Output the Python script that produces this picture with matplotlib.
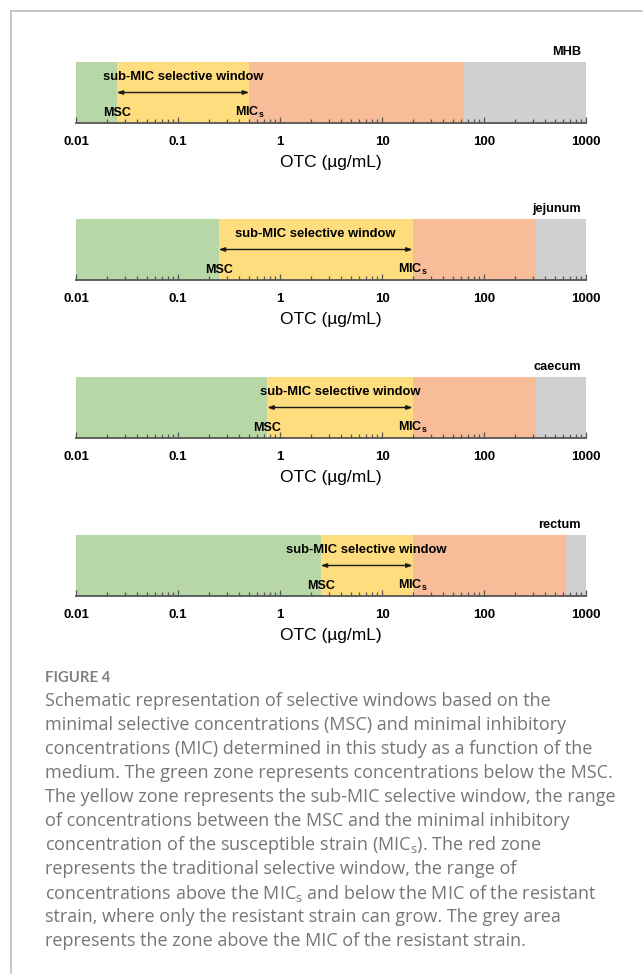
import matplotlib
matplotlib.use('Agg')
import matplotlib.pyplot as plt
from matplotlib.lines import Line2D

plt.rcParams['font.family'] = ['Liberation Sans', 'DejaVu Sans']
plt.rcParams['mathtext.default'] = 'regular'

# OTC concentrations (ug/mL)
media = ['MHB', 'jejunum', 'caecum', 'rectum']
msc = [0.025, 0.25, 0.75, 2.5]
mic_s = [0.5, 20, 20, 20]
mic_r = [64, 320, 320, 640]
x_min, x_max = 0.01, 1000
tick_vals = [0.01, 0.1, 1, 10, 100, 1000]
tick_labels = ['0.01', '0.1', '1', '10', '100', '1000']

zone_colors = ['#b7d7a6', '#fedd7e', '#f6bd98', '#d0d0d0']

caption_head = 'FIGURE 4'
caption_lines = [
    'Schematic representation of selective windows based on the',
    'minimal selective concentrations (MSC) and minimal inhibitory',
    'concentrations (MIC) determined in this study as a function of the',
    'medium. The green zone represents concentrations below the MSC.',
    'The yellow zone represents the sub-MIC selective window, the range',
    'of concentrations between the MSC and the minimal inhibitory',
    'concentration of the susceptible strain (MIC$_{s}$). The red zone',
    'represents the traditional selective window, the range of',
    'concentrations above the MIC$_{s}$ and below the MIC of the resistant',
    'strain, where only the resistant strain can grow. The grey area',
    'represents the zone above the MIC of the resistant strain.',
]

W, H = 643, 974
fig = plt.figure(figsize=(W / 100, H / 100), dpi=100)

# frame lines (top and left)
fig.add_artist(Line2D([11 / W, 11 / W], [0, 1 - 11 / H], transform=fig.transFigure,
                      color='#bdbdbd', lw=1.2))
fig.add_artist(Line2D([11 / W, 1], [1 - 11 / H, 1 - 11 / H], transform=fig.transFigure,
                      color='#bdbdbd', lw=1.2))

tops = [62, 219, 377, 535]
band_h = 61
left, width = 76 / W, 510 / W

for i, name in enumerate(media):
    bottom = 1 - (tops[i] + band_h) / H
    ax = fig.add_axes([left, bottom, width, band_h / H])
    ax.set_xscale('log')
    ax.set_xlim(x_min, x_max)
    ax.set_ylim(0, 1)
    edges = [x_min, msc[i], mic_s[i], mic_r[i], x_max]
    for j in range(4):
        ax.axvspan(edges[j], edges[j + 1], color=zone_colors[j], lw=0)
    for s in ['top', 'left', 'right']:
        ax.spines[s].set_visible(False)
    ax.spines['bottom'].set_color('#555555')
    ax.spines['bottom'].set_linewidth(1.3)
    ax.set_yticks([])
    ax.set_xticks(tick_vals)
    ax.set_xticklabels(tick_labels, fontsize=9.5, fontweight='bold')
    ax.tick_params(axis='x', which='both', direction='in', color='#555555',
                   width=0.9, pad=9.5)
    ax.tick_params(axis='x', which='major', length=4)
    ax.tick_params(axis='x', which='minor', length=3)
    ax.set_xlabel('OTC (µg/mL)', fontsize=12.5, labelpad=5)

    ax.text(0.99, 1.17, name, transform=ax.transAxes, ha='right', va='center',
            fontsize=9.2, fontweight='bold')
    mid = (msc[i] * mic_s[i]) ** 0.5
    ax.text(mid, 0.75, 'sub-MIC selective window', ha='center', va='center',
            fontsize=9.4, fontweight='bold')
    ax.annotate('', xy=(mic_s[i], 0.5), xytext=(msc[i], 0.5),
                arrowprops=dict(arrowstyle='<|-|>,head_length=0.35,head_width=0.12',
                                color='#1a1a1a', lw=1.0, shrinkA=0, shrinkB=0))
    ax.text(msc[i], 0.17, 'MSC', ha='center', va='center', fontsize=9,
            fontweight='bold')
    ax.text(mic_s[i], 0.17, 'MIC$_{s}$', ha='center', va='center', fontsize=9,
            fontweight='bold')

# caption
fig.text(45 / W, 1 - 678 / H, caption_head, ha='left', va='center', fontsize=10.7,
         color='#808080', fontweight='bold', family=['Lato', 'DejaVu Sans'])
for k, line in enumerate(caption_lines):
    fig.text(45 / W, 1 - (701 + 24 * k) / H, line, ha='left', va='center',
             fontsize=13, color='#767676', family=['Open Sans', 'DejaVu Sans'])

fig.savefig('out.png', dpi=100)
